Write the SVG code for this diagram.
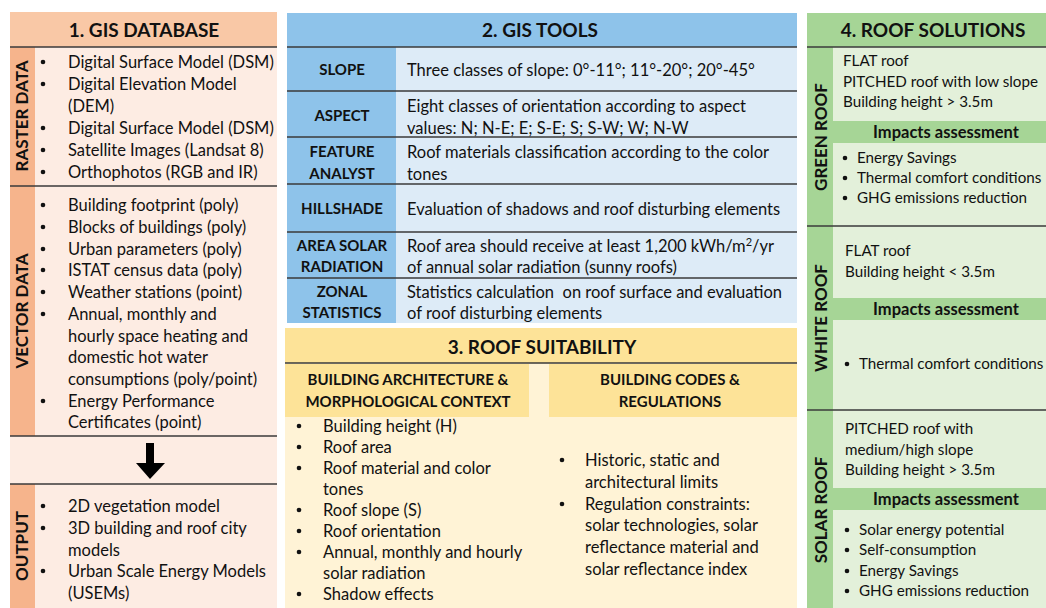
<svg xmlns="http://www.w3.org/2000/svg" width="1046" height="608" viewBox="0 0 1046 608">
<style>
text{font-family:Lato,"Open Sans","Liberation Sans",sans-serif;fill:#111;font-size:16.5px}
.h{font-size:19px;font-weight:bold;text-anchor:middle}
.b{font-size:15px;font-weight:bold;text-anchor:middle}
.v{font-size:17px;font-weight:bold;text-anchor:middle}
.g{font-size:15.2px}
.ia{font-size:16.5px;font-weight:bold;text-anchor:middle}
.sep{stroke:#3a3a3a;stroke-width:1.5}
</style>
<defs>
<g id="blt"><circle r="2.3" fill="#111"/></g>
</defs>
<rect width="1046" height="608" fill="#fff"/>

<g id="gis-database">
<rect x="10" y="12" width="267" height="596" fill="#fdece3"/>
<rect x="10" y="12" width="267" height="35" fill="#f9c8a6"/>
<text class="h" x="144" y="37">1. GIS DATABASE</text>
<rect x="10" y="47" width="25" height="389" fill="#f6b48c"/>
<rect x="10" y="484" width="25" height="124" fill="#f6b48c"/>
<line class="sep" x1="10" y1="47" x2="277" y2="47"/>
<line class="sep" x1="10" y1="186" x2="277" y2="186"/>
<line class="sep" x1="10" y1="436" x2="277" y2="436"/>
<line class="sep" x1="10" y1="484" x2="277" y2="484"/>
<text class="v" transform="translate(28,116) rotate(-90)">RASTER DATA</text>
<text class="v" transform="translate(28,311) rotate(-90)">VECTOR DATA</text>
<text class="v" transform="translate(28,546) rotate(-90)">OUTPUT</text>
<g>
<use href="#blt" x="43" y="62"/><text x="68" y="68">Digital Surface Model (DSM)</text>
<use href="#blt" x="43" y="84"/><text x="68" y="90">Digital Elevation Model</text>
<text x="68" y="112">(DEM)</text>
<use href="#blt" x="43" y="128"/><text x="68" y="134">Digital Surface Model (DSM)</text>
<use href="#blt" x="43" y="150"/><text x="68" y="156">Satellite Images (Landsat 8)</text>
<use href="#blt" x="43" y="172"/><text x="68" y="178">Orthophotos (RGB and IR)</text>
</g>
<g>
<use href="#blt" x="43" y="205"/><text x="68" y="211">Building footprint (poly)</text>
<use href="#blt" x="43" y="227"/><text x="68" y="233">Blocks of buildings (poly)</text>
<use href="#blt" x="43" y="249"/><text x="68" y="255">Urban parameters (poly)</text>
<use href="#blt" x="43" y="270"/><text x="68" y="276">ISTAT census data (poly)</text>
<use href="#blt" x="43" y="292"/><text x="68" y="298">Weather stations (point)</text>
<use href="#blt" x="43" y="314"/><text x="68" y="320">Annual, monthly and</text>
<text x="68" y="342">hourly space heating and</text>
<text x="68" y="363">domestic hot water</text>
<text x="68" y="385">consumptions (poly/point)</text>
<use href="#blt" x="43" y="401"/><text x="68" y="407">Energy Performance</text>
<text x="68" y="428">Certificates (point)</text>
</g>
<polygon points="146,443 154,443 154,463 165,463 150,479 136,463 146,463" fill="#000"/>
<g>
<use href="#blt" x="43" y="506"/><text x="68" y="512">2D vegetation model</text>
<use href="#blt" x="43" y="528"/><text x="68" y="534">3D building and roof city</text>
<text x="68" y="556">models</text>
<use href="#blt" x="43" y="571"/><text x="68" y="577">Urban Scale Energy Models</text>
<text x="68" y="599">(USEMs)</text>
</g>
</g>

<g id="gis-tools">
<rect x="287" y="13" width="510" height="310" fill="#ddebf7"/>
<rect x="287" y="13" width="510" height="34" fill="#8ec3ea"/>
<rect x="287" y="47" width="109" height="276" fill="#8ec3ea"/>
<text class="h" x="540" y="37">2. GIS TOOLS</text>
<line class="sep" x1="287" y1="47" x2="797" y2="47"/>
<line class="sep" x1="287" y1="91" x2="797" y2="91"/>
<line class="sep" x1="287" y1="137" x2="797" y2="137"/>
<line class="sep" x1="287" y1="184" x2="797" y2="184"/>
<line class="sep" x1="287" y1="232" x2="797" y2="232"/>
<line class="sep" x1="287" y1="278" x2="797" y2="278"/>
<text class="b" x="342" y="75">SLOPE</text>
<text x="407" y="76">Three classes of slope: 0°-11°; 11°-20°; 20°-45°</text>
<text class="b" x="342" y="121">ASPECT</text>
<text x="407" y="112">Eight classes of orientation according to aspect</text>
<text x="407" y="134">values: N; N-E; E; S-E; S; S-W; W; N-W</text>
<text class="b" x="342" y="157">FEATURE</text>
<text class="b" x="342" y="179">ANALYST</text>
<text x="407" y="158">Roof materials classification according to the color</text>
<text x="407" y="180">tones</text>
<text class="b" x="342" y="214">HILLSHADE</text>
<text x="407" y="215">Evaluation of shadows and roof disturbing elements</text>
<text class="b" x="342" y="251">AREA SOLAR</text>
<text class="b" x="342" y="272">RADIATION</text>
<text x="407" y="252">Roof area should receive at least 1,200 kWh/m<tspan font-size="11" dy="-6">2</tspan><tspan dy="6">/yr</tspan></text>
<text x="407" y="273">of annual solar radiation (sunny roofs)</text>
<text class="b" x="342" y="297">ZONAL</text>
<text class="b" x="342" y="318">STATISTICS</text>
<text x="407" y="298" xml:space="preserve">Statistics calculation  on roof surface and evaluation</text>
<text x="407" y="319">of roof disturbing elements</text>
</g>

<g id="roof-suitability">
<rect x="285" y="328" width="512" height="280" fill="#fff3d6"/>
<rect x="285" y="328" width="512" height="35" fill="#fde398"/>
<text class="h" x="542" y="354">3. ROOF SUITABILITY</text>
<line class="sep" x1="285" y1="363" x2="797" y2="363"/>
<rect x="285" y="364" width="244" height="53" fill="#fde398"/>
<rect x="549" y="364" width="248" height="53" fill="#fde398"/>
<text class="b" x="408" y="385">BUILDING ARCHITECTURE &amp;</text>
<text class="b" x="408" y="407">MORPHOLOGICAL CONTEXT</text>
<text class="b" x="670" y="385">BUILDING CODES &amp;</text>
<text class="b" x="670" y="407">REGULATIONS</text>
<g>
<use href="#blt" x="299" y="426"/><text x="323" y="432">Building height (H)</text>
<use href="#blt" x="299" y="447"/><text x="323" y="453">Roof area</text>
<use href="#blt" x="299" y="468"/><text x="323" y="474">Roof material and color</text>
<text x="323" y="495">tones</text>
<use href="#blt" x="299" y="510"/><text x="323" y="516">Roof slope (S)</text>
<use href="#blt" x="299" y="531"/><text x="323" y="537">Roof orientation</text>
<use href="#blt" x="299" y="552"/><text x="323" y="558">Annual, monthly and hourly</text>
<text x="323" y="579">solar radiation</text>
<use href="#blt" x="299" y="594"/><text x="323" y="600">Shadow effects</text>
</g>
<g>
<use href="#blt" x="562" y="460"/><text x="585" y="466">Historic, static and</text>
<text x="585" y="488">architectural limits</text>
<use href="#blt" x="562" y="504"/><text x="585" y="510">Regulation constraints:</text>
<text x="585" y="531">solar technologies, solar</text>
<text x="585" y="553">reflectance material and</text>
<text x="585" y="575">solar reflectance index</text>
</g>
</g>

<g id="roof-solutions">
<rect x="807" y="13" width="239" height="595" fill="#e3f0da"/>
<rect x="807" y="13" width="239" height="34" fill="#a6d596"/>
<text class="h" x="933" y="37">4. ROOF SOLUTIONS</text>
<rect x="807" y="47" width="26" height="561" fill="#a6d596"/>
<line class="sep" x1="807" y1="47" x2="1046" y2="47"/>
<line class="sep" x1="807" y1="226" x2="1046" y2="226"/>
<line class="sep" x1="807" y1="410" x2="1046" y2="410"/>
<text class="v" transform="translate(827,137) rotate(-90)">GREEN ROOF</text>
<text class="v" transform="translate(827,318) rotate(-90)">WHITE ROOF</text>
<text class="v" transform="translate(827,510) rotate(-90)">SOLAR ROOF</text>
<g id="green-roof">
<text class="g" x="843" y="66">FLAT roof</text>
<text class="g" x="843" y="87">PITCHED roof with low slope</text>
<text class="g" x="843" y="107">Building height &gt; 3.5m</text>
<rect x="833" y="121" width="213" height="22" fill="#a6d596"/>
<text class="ia" x="946" y="138">Impacts assessment</text>
<use href="#blt" x="845" y="158"/><text class="g" x="857" y="163">Energy Savings</text>
<use href="#blt" x="845" y="178"/><text class="g" x="857" y="183">Thermal comfort conditions</text>
<use href="#blt" x="845" y="198"/><text class="g" x="857" y="203">GHG emissions reduction</text>
</g>
<g id="white-roof">
<text class="g" x="845" y="256">FLAT roof</text>
<text class="g" x="845" y="277">Building height &lt; 3.5m</text>
<rect x="833" y="298" width="213" height="22" fill="#a6d596"/>
<text class="ia" x="946" y="315">Impacts assessment</text>
<use href="#blt" x="847" y="364"/><text class="g" x="859" y="369">Thermal comfort conditions</text>
</g>
<g id="solar-roof">
<text class="g" x="845" y="434">PITCHED roof with</text>
<text class="g" x="845" y="455">medium/high slope</text>
<text class="g" x="845" y="475">Building height &gt; 3.5m</text>
<rect x="833" y="488" width="213" height="22" fill="#a6d596"/>
<text class="ia" x="946" y="505">Impacts assessment</text>
<use href="#blt" x="847" y="530"/><text class="g" x="859" y="535">Solar energy potential</text>
<use href="#blt" x="847" y="550"/><text class="g" x="859" y="555">Self-consumption</text>
<use href="#blt" x="847" y="571"/><text class="g" x="859" y="576">Energy Savings</text>
<use href="#blt" x="847" y="591"/><text class="g" x="859" y="596">GHG emissions reduction</text>
</g>
</g>
<g id="connectors"></g>
</svg>
